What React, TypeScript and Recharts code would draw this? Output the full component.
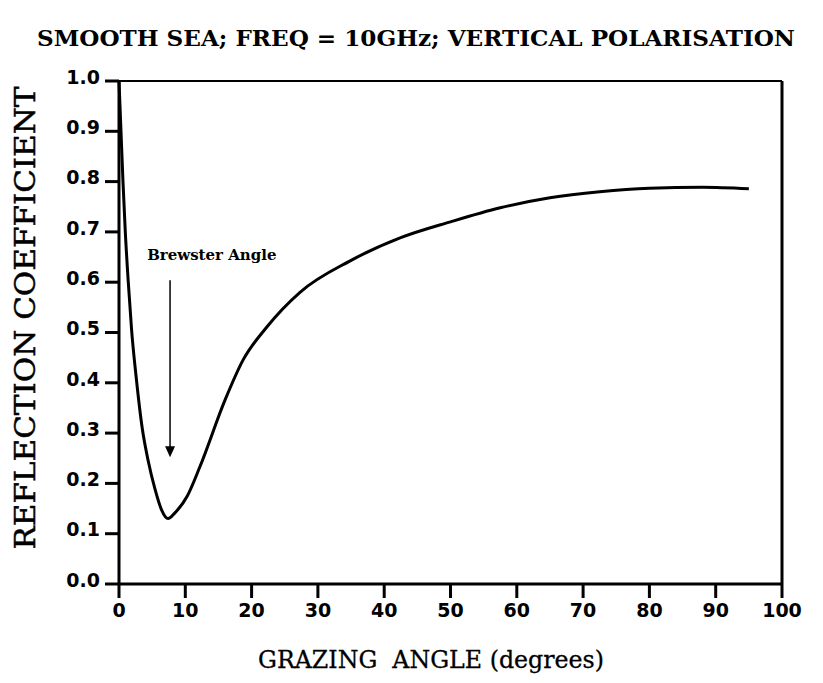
import React from 'react';
import { LineChart, Line, XAxis, YAxis, ReferenceLine, ReferenceDot } from 'recharts';

// grazing angle (degrees) and reflection coefficient
const angles = [0, 0.3, 0.6, 0.95, 1.4, 1.9, 2.6, 3.5, 4.4, 5.4, 6.4, 7.4, 8.4, 10.3, 12.2, 16, 18.7, 22.3, 27.3, 34.8, 42.4, 50, 57.5, 65, 72.5, 80, 88, 95];
const reflection = [1.0, 0.9, 0.8, 0.7, 0.6, 0.505, 0.41, 0.31, 0.245, 0.19, 0.148, 0.13, 0.141, 0.175, 0.233, 0.366, 0.445, 0.511, 0.58, 0.642, 0.688, 0.72, 0.748, 0.768, 0.78, 0.787, 0.789, 0.786];

const xTicks = [0, 10, 20, 30, 40, 50, 60, 70, 80, 90, 100];
const yTicks = [0, 0.1, 0.2, 0.3, 0.4, 0.5, 0.6, 0.7, 0.8, 0.9, 1.0];

// Brewster angle arrow: x position, start and tip values
const brewsterX = 7.7;
const arrowFrom = 0.604;
const arrowTip = 0.252;
const labelAt = { x: 14.0, y: 0.654 };

const data = angles.map((a, i) => ({ angle: a, r: reflection[i] }));

const serif = '"DejaVu Serif", serif';
const sans = '"DejaVu Sans", sans-serif';

const xTickStyle = { fontSize: 19, fontWeight: 'bold', fill: '#000', fontFamily: sans };
const yTickStyle = { ...xTickStyle, dy: -4 };
const lineStyle = { stroke: '#000', strokeWidth: 3 };

const ArrowHead = (props: any) => {
  const { cx, cy } = props;
  return <path d={`M${cx - 5},${cy - 11} L${cx + 5},${cy - 11} L${cx},${cy} Z`} fill="#000" />;
};

const BrewsterLabel = (props: any) => {
  const { cx, cy } = props;
  return (
    <text x={cx} y={cy} textAnchor="middle" dominantBaseline="central"
      fontFamily={serif} fontWeight="bold" fontSize={15} fill="#000">
      Brewster Angle
    </text>
  );
};

export default function App() {
  return (
    <div style={{ position: 'absolute', left: 0, top: 0, width: 823, height: 683, background: '#fff' }}>
      <LineChart width={823} height={683} data={data} margin={{ top: 81, right: 41, left: 0, bottom: 0 }}>
        <text x={416} y={46} textAnchor="middle" fontFamily={serif} fontWeight="bold" fontSize={23}
          textLength={758} lengthAdjust="spacingAndGlyphs" fill="#000">
          SMOOTH SEA; FREQ = 10GHz; VERTICAL POLARISATION
        </text>
        <XAxis
          type="number"
          dataKey="angle"
          domain={[0, 100]}
          ticks={xTicks}
          height={99}
          tickSize={14}
          tickMargin={6}
          axisLine={lineStyle}
          tickLine={lineStyle}
          tick={xTickStyle}
          label={{
            content: () => (
              <text x={431} y={668} textAnchor="middle" fontFamily={serif} fontSize={24} fill="#000"
                stroke="#000" strokeWidth={0.3} textLength={346} lengthAdjust="spacingAndGlyphs">
                {'GRAZING\u00A0\u00A0ANGLE (degrees)'}
              </text>
            ),
          }}
        />
        <YAxis
          type="number"
          domain={[0, 1]}
          ticks={yTicks}
          width={119}
          tickSize={14}
          tickMargin={5}
          axisLine={lineStyle}
          tickLine={lineStyle}
          tick={yTickStyle}
          tickFormatter={(v: number) => v.toFixed(1)}
          label={{
            content: () => (
              <text x={25} y={318} transform="rotate(-90 25 318)" textAnchor="middle" dominantBaseline="central"
                fontFamily={serif} fontSize={28} fill="#000" stroke="#000" strokeWidth={0.5}
                textLength={463} lengthAdjust="spacingAndGlyphs">
                REFLECTION COEFFICIENT
              </text>
            ),
          }}
        />
        <ReferenceLine y={1} stroke="#000" strokeWidth={2} />
        <ReferenceLine x={100} stroke="#000" strokeWidth={3} />
        <ReferenceLine
          segment={[{ x: brewsterX, y: arrowFrom }, { x: brewsterX, y: arrowTip + 0.015 }]}
          stroke="#000"
          strokeWidth={1.5}
        />
        <ReferenceDot x={brewsterX} y={arrowTip} r={0} shape={ArrowHead} />
        <ReferenceDot x={labelAt.x} y={labelAt.y} r={0} shape={BrewsterLabel} />
        <Line
          type="monotone"
          dataKey="r"
          stroke="#000"
          strokeWidth={3}
          dot={false}
          isAnimationActive={false}
        />
      </LineChart>
    </div>
  );
}
